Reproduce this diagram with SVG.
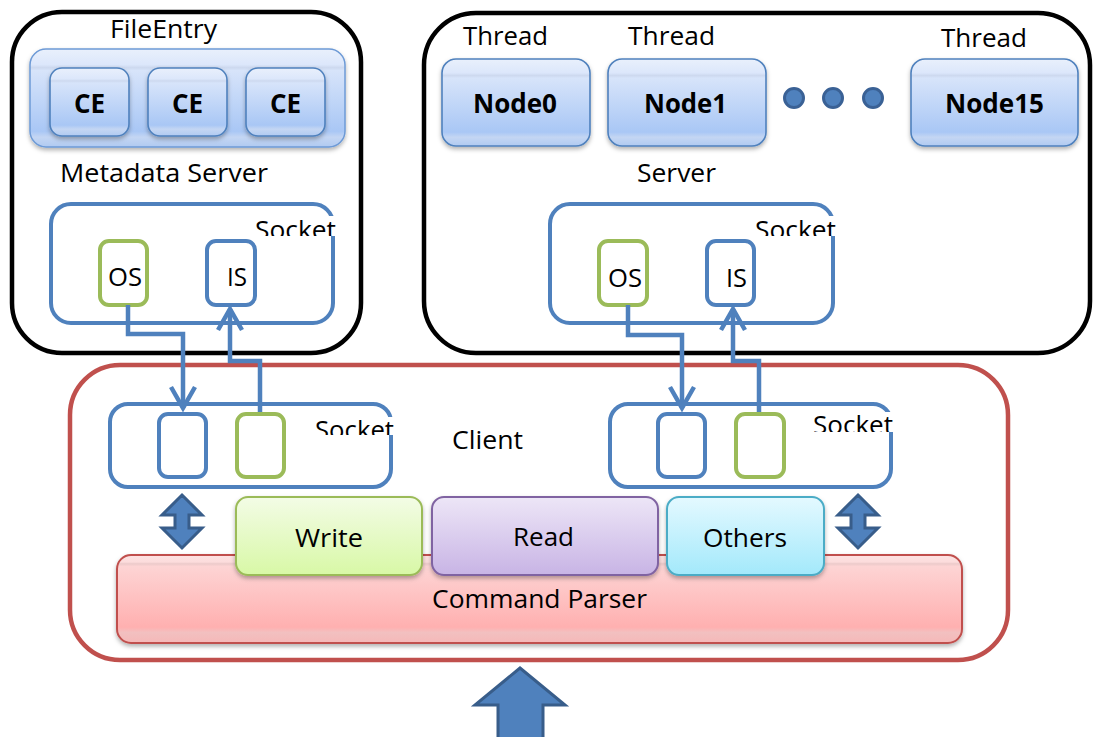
<svg xmlns="http://www.w3.org/2000/svg" width="1093" height="737" viewBox="0 0 1093 737">
  <style>
    text { font-family: "Open Sans", "Liberation Sans", sans-serif; fill: #000; }
    .lbl { font-size: 25px; }
    .bold { font-size: 26px; font-weight: bold; }
    .server { fill: #fff; stroke: #000; stroke-width: 4.5; }
    .client { fill: #fff; stroke: #c0504d; stroke-width: 4.5; }
    .sock { fill: #fff; stroke: #4f81bd; stroke-width: 4; }
    .port-b { fill: #fff; stroke: #4f81bd; stroke-width: 4; }
    .port-g { fill: #fff; stroke: #9bbb59; stroke-width: 4; }
    .blue { fill: url(#gBlue); stroke: #4f81bd; stroke-width: 1.6; }
    .group { fill: url(#gBlue); stroke: #6d9ad6; stroke-width: 1.5; }
    .write { fill: url(#gGreen); stroke: #9bbb59; stroke-width: 2; }
    .read { fill: url(#gPurple); stroke: #8064a2; stroke-width: 2; }
    .others { fill: url(#gCyan); stroke: #4bacc6; stroke-width: 2; }
    .parser { fill: url(#gRed); stroke: #c0504d; stroke-width: 2; }
    .wire { fill: none; stroke: #4f81bd; stroke-width: 4.5; stroke-linejoin: miter; }
    .fat { fill: #4f81bd; stroke: #385d8a; stroke-width: 3; stroke-linejoin: miter; }
    .dot { fill: #4f81bd; stroke: #3a6195; stroke-width: 3; }
  </style>
  <defs>
    <linearGradient id="gBlue" x1="0" y1="0" x2="0" y2="1">
      <stop offset="0" stop-color="#e9f0fc"/>
      <stop offset="0.16" stop-color="#dce7fb"/>
      <stop offset="0.19" stop-color="#cdd9ef"/>
      <stop offset="0.22" stop-color="#d7e4fa"/>
      <stop offset="0.84" stop-color="#a9c7f5"/>
      <stop offset="0.9" stop-color="#c4d6f3"/>
      <stop offset="1" stop-color="#b0caf1"/>
    </linearGradient>
    <linearGradient id="gGreen" x1="0" y1="0" x2="0" y2="1">
      <stop offset="0" stop-color="#f3fce6"/>
      <stop offset="1" stop-color="#d8f8a6"/>
    </linearGradient>
    <linearGradient id="gPurple" x1="0" y1="0" x2="0" y2="1">
      <stop offset="0" stop-color="#ede6f7"/>
      <stop offset="1" stop-color="#c8b4e5"/>
    </linearGradient>
    <linearGradient id="gCyan" x1="0" y1="0" x2="0" y2="1">
      <stop offset="0" stop-color="#e4f9ff"/>
      <stop offset="1" stop-color="#a3e9fb"/>
    </linearGradient>
    <linearGradient id="gRed" x1="0" y1="0" x2="0" y2="1">
      <stop offset="0" stop-color="#fde3e3"/>
      <stop offset="0.08" stop-color="#fcdcdc"/>
      <stop offset="0.1" stop-color="#eccaca"/>
      <stop offset="0.13" stop-color="#fdd4d4"/>
      <stop offset="0.82" stop-color="#ffb0b0"/>
      <stop offset="0.88" stop-color="#f2c0c0"/>
      <stop offset="1" stop-color="#f5b8b8"/>
    </linearGradient>
    <filter id="shadow" x="-10%" y="-20%" width="120%" height="150%">
      <feDropShadow dx="0" dy="2.5" stdDeviation="2" flood-color="#000" flood-opacity="0.3"/>
    </filter>
    <marker id="head" viewBox="-26 -16 30 32" markerWidth="30" markerHeight="32" refX="0" refY="0" orient="auto" markerUnits="userSpaceOnUse">
      <path d="M-21,-12 L0,0 L-21,12" fill="none" stroke="#4f81bd" stroke-width="4.5"/>
    </marker>
    <clipPath id="clipS1"><rect x="250" y="214" width="90" height="22"/></clipPath>
    <clipPath id="clipS2"><rect x="750" y="214" width="90" height="22"/></clipPath>
    <clipPath id="clipS3"><rect x="310" y="414" width="86" height="21"/></clipPath>
    <clipPath id="clipS4"><rect x="808" y="409" width="88" height="23"/></clipPath>
  </defs>

  <!-- Metadata server -->
  <g id="metadata-server">
    <rect class="server" x="12" y="12" width="349" height="341" rx="50"/>
    <text class="lbl" x="110" y="38" textLength="107" lengthAdjust="spacingAndGlyphs">FileEntry</text>
    <g id="file-entry">
      <rect class="group" x="30" y="49" width="315" height="98" rx="16" filter="url(#shadow)"/>
      <g id="ce-1">
        <rect class="blue" x="50" y="68" width="79" height="68" rx="12" filter="url(#shadow)"/>
        <text class="bold" x="89.5" y="113" text-anchor="middle">CE</text>
      </g>
      <g id="ce-2">
        <rect class="blue" x="148" y="68" width="79" height="68" rx="12" filter="url(#shadow)"/>
        <text class="bold" x="187.5" y="113" text-anchor="middle">CE</text>
      </g>
      <g id="ce-3">
        <rect class="blue" x="246" y="68" width="79" height="68" rx="12" filter="url(#shadow)"/>
        <text class="bold" x="285.5" y="113" text-anchor="middle">CE</text>
      </g>
    </g>
    <text class="lbl" x="60" y="182" textLength="208" lengthAdjust="spacingAndGlyphs">Metadata Server</text>
    <g id="metadata-socket">
      <rect class="sock" x="51" y="204" width="282" height="119" rx="20"/>
      <rect x="253" y="216" width="84" height="20" fill="#fff"/>
      <text class="lbl" x="255" y="239" textLength="81" lengthAdjust="spacingAndGlyphs" clip-path="url(#clipS1)">Socket</text>
      <g id="metadata-os">
        <rect class="port-g" x="100" y="241" width="47" height="64" rx="9"/>
        <text class="lbl" x="108" y="286" textLength="34" lengthAdjust="spacingAndGlyphs">OS</text>
      </g>
      <g id="metadata-is">
        <rect class="port-b" x="207" y="241" width="48" height="64" rx="9"/>
        <text class="lbl" x="227" y="286" textLength="20" lengthAdjust="spacingAndGlyphs">IS</text>
      </g>
    </g>
  </g>

  <!-- Data server with worker threads -->
  <g id="server">
    <rect class="server" x="424" y="13" width="666" height="340" rx="52"/>
    <g id="node0">
      <text class="lbl" x="463" y="45" textLength="85" lengthAdjust="spacingAndGlyphs">Thread</text>
      <rect class="blue" x="442" y="59" width="148" height="87" rx="14" filter="url(#shadow)"/>
      <text class="bold" x="473" y="113" textLength="84" lengthAdjust="spacingAndGlyphs">Node0</text>
    </g>
    <g id="node1">
      <text class="lbl" x="628" y="45" textLength="87" lengthAdjust="spacingAndGlyphs">Thread</text>
      <rect class="blue" x="608" y="59" width="158" height="87" rx="14" filter="url(#shadow)"/>
      <text class="bold" x="644" y="113" textLength="83" lengthAdjust="spacingAndGlyphs">Node1</text>
    </g>
    <g id="ellipsis">
      <circle class="dot" cx="794" cy="98" r="9.5"/>
      <circle class="dot" cx="833" cy="98" r="9.5"/>
      <circle class="dot" cx="873" cy="98" r="9.5"/>
    </g>
    <g id="node15">
      <text class="lbl" x="941" y="47" textLength="86" lengthAdjust="spacingAndGlyphs">Thread</text>
      <rect class="blue" x="911" y="59" width="167" height="87" rx="14" filter="url(#shadow)"/>
      <text class="bold" x="945" y="113" textLength="99" lengthAdjust="spacingAndGlyphs">Node15</text>
    </g>
    <text class="lbl" x="637" y="182" textLength="79" lengthAdjust="spacingAndGlyphs">Server</text>
    <g id="server-socket">
      <rect class="sock" x="550" y="204" width="283" height="119" rx="20"/>
      <rect x="753" y="216" width="84" height="20" fill="#fff"/>
      <text class="lbl" x="755" y="239" textLength="81" lengthAdjust="spacingAndGlyphs" clip-path="url(#clipS2)">Socket</text>
      <g id="server-os">
        <rect class="port-g" x="599" y="241" width="48" height="64" rx="9"/>
        <text class="lbl" x="608" y="287" textLength="34" lengthAdjust="spacingAndGlyphs">OS</text>
      </g>
      <g id="server-is">
        <rect class="port-b" x="707" y="241" width="47" height="64" rx="9"/>
        <text class="lbl" x="726" y="287" textLength="21" lengthAdjust="spacingAndGlyphs">IS</text>
      </g>
    </g>
  </g>

  <!-- Client -->
  <g id="client">
    <rect class="client" x="70" y="365" width="938" height="295" rx="50"/>
    <text class="lbl" x="452" y="449" textLength="71" lengthAdjust="spacingAndGlyphs">Client</text>
    <g id="client-socket-meta">
      <rect class="sock" x="110" y="404" width="281" height="83" rx="18"/>
      <rect x="313" y="417" width="81" height="18" fill="#fff"/>
      <text class="lbl" x="315" y="439" textLength="79" lengthAdjust="spacingAndGlyphs" clip-path="url(#clipS3)">Socket</text>
      <rect class="port-b" x="159" y="414" width="47" height="63" rx="9"/>
      <rect class="port-g" x="237" y="414" width="47" height="63" rx="9"/>
    </g>
    <g id="client-socket-data">
      <rect class="sock" x="610" y="404" width="281" height="83" rx="18"/>
      <rect x="811" y="412" width="83" height="20" fill="#fff"/>
      <text class="lbl" x="813" y="434" textLength="80" lengthAdjust="spacingAndGlyphs" clip-path="url(#clipS4)">Socket</text>
      <rect class="port-b" x="658" y="414" width="47" height="63" rx="9"/>
      <rect class="port-g" x="736" y="414" width="48" height="63" rx="9"/>
    </g>
    <g id="command-parser">
      <rect class="parser" x="117" y="555" width="845" height="88" rx="14" filter="url(#shadow)"/>
      <text class="lbl" x="432" y="608" textLength="215" lengthAdjust="spacingAndGlyphs">Command Parser</text>
    </g>
    <g id="write">
      <rect class="write" x="236" y="497" width="186" height="78" rx="12" filter="url(#shadow)"/>
      <text class="lbl" x="295" y="547" textLength="68" lengthAdjust="spacingAndGlyphs">Write</text>
    </g>
    <g id="read">
      <rect class="read" x="432" y="497" width="226" height="78" rx="12" filter="url(#shadow)"/>
      <text class="lbl" x="513" y="546" textLength="61" lengthAdjust="spacingAndGlyphs">Read</text>
    </g>
    <g id="others">
      <rect class="others" x="667" y="497" width="157" height="78" rx="12" filter="url(#shadow)"/>
      <text class="lbl" x="703" y="547" textLength="84" lengthAdjust="spacingAndGlyphs">Others</text>
    </g>
  </g>

  <!-- Connectors -->
  <g id="connectors">
    <path class="wire" d="M128,305 V334 H183 V408" marker-end="url(#head)"/>
    <path class="wire" d="M260,412 V361 H230 V309" marker-end="url(#head)"/>
    <path class="wire" d="M628,305 V335 H682 V408" marker-end="url(#head)"/>
    <path class="wire" d="M759,412 V361 H733 V309" marker-end="url(#head)"/>
    <polygon class="fat" points="182,495 202,515 189,515 189,528 202,528 182,548 162,528 175,528 175,515 162,515"/>
    <polygon class="fat" points="858,495 878,515 865,515 865,528 878,528 858,548 838,528 851,528 851,515 838,515"/>
    <polygon class="fat" points="520,668 565,705 543,705 543,742 498,742 498,705 475,705"/>
  </g>
</svg>
